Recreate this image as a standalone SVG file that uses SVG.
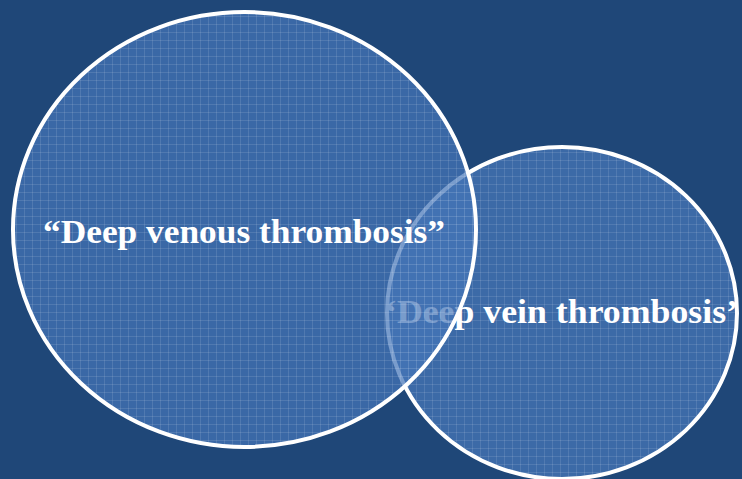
<svg xmlns="http://www.w3.org/2000/svg" width="742" height="479" viewBox="0 0 742 479">
  <defs>
    <pattern id="grid" width="8" height="8" patternUnits="userSpaceOnUse">
      <path d="M0 0.5H8M0.5 0V8" stroke="#ffffff" stroke-opacity="0.11" stroke-width="1" fill="none"/>
    </pattern>
  </defs>
  <style>
    .lbl { font-family: "Liberation Serif", "Times New Roman", serif; font-weight: bold; font-size: 34px; fill: #ffffff; }
    .ring { stroke: #ffffff; stroke-width: 4; }
  </style>
  <rect x="0" y="0" width="742" height="479" fill="#1f4778"/>
  <g id="node-vein">
    <ellipse cx="562" cy="313" rx="175" ry="166" fill="#3c6aa7" class="ring"/>
    <ellipse cx="562" cy="313" rx="173" ry="164" fill="url(#grid)"/>
    <text class="lbl" x="385" y="323" textLength="353" lengthAdjust="spacingAndGlyphs">‘Deep vein thrombosis’</text>
  </g>
  <g id="node-venous">
    <ellipse cx="244.5" cy="229.5" rx="231.5" ry="217.5" fill="#4576b9" fill-opacity="0.72" stroke="none"/>
    <ellipse cx="244.5" cy="229.5" rx="231.5" ry="217.5" fill="url(#grid)" class="ring"/>
    <text class="lbl" x="43" y="243" textLength="402" lengthAdjust="spacingAndGlyphs">“Deep venous thrombosis”</text>
  </g>
  <g id="connectors"/>
</svg>
